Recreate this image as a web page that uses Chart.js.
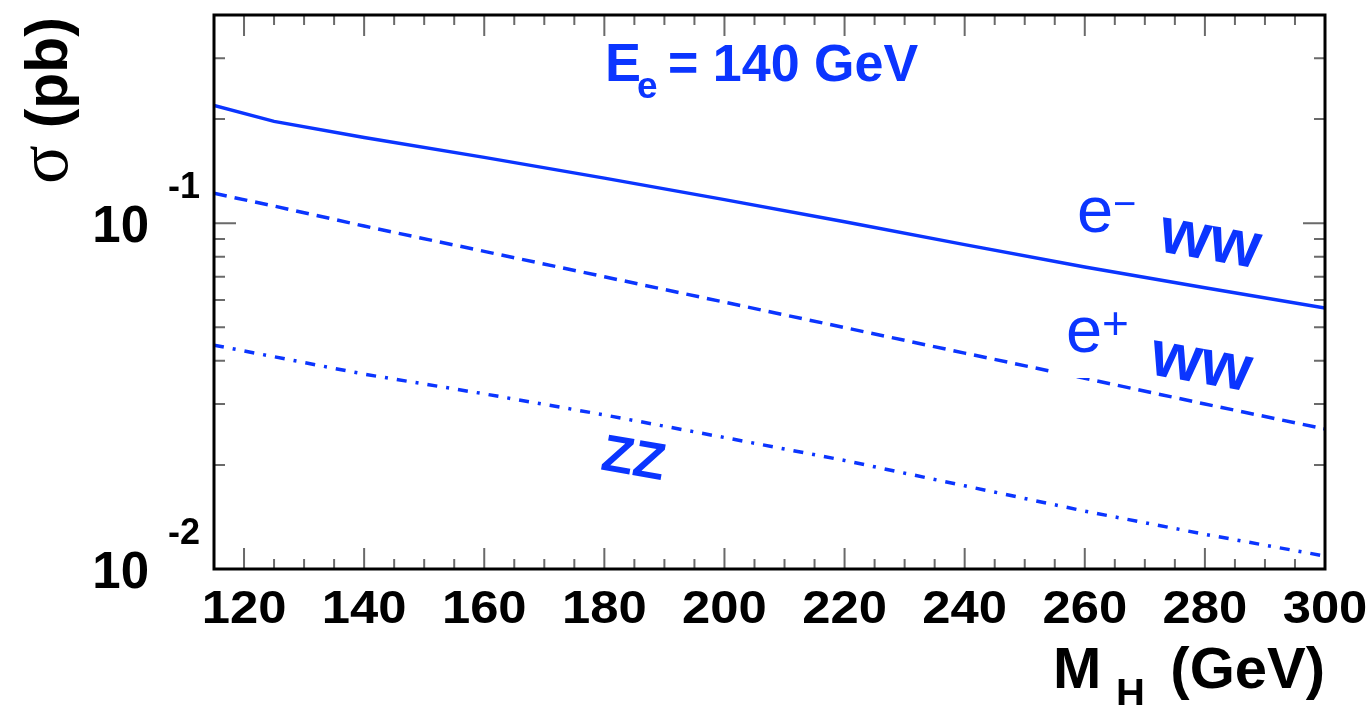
<!DOCTYPE html>
<html>
<head>
<meta charset="utf-8">
<script src="https://cdn.jsdelivr.net/npm/chart.js@4.4.1/dist/chart.umd.min.js"></script>
<style>
  html, body { margin: 0; padding: 0; background: #ffffff; }
  #area-grafico { width: 1372px; height: 705px; }
</style>
</head>
<body>
<div id="area-grafico">
  <canvas id="grafico-sigma-higgs" width="1372" height="705"></canvas>
</div>
<script>
// massa do Higgs (GeV)
const massasHiggs = [115, 125, 140, 160, 180, 200, 220, 240, 260, 280, 300];

// secoes de choque (pb) para cada canal
const sigmaEletronWW = [0.219, 0.197, 0.177, 0.155, 0.135, 0.117, 0.101, 0.0867, 0.0747, 0.0651, 0.0568];
const sigmaPositronWW = [0.122, 0.1121, 0.0981, 0.0829, 0.07, 0.0591, 0.0499, 0.0421, 0.0356, 0.03, 0.0254];
const sigmaZZ = [0.0444, 0.0411, 0.0366, 0.0321, 0.0279, 0.024, 0.0206, 0.0174, 0.0147, 0.0126, 0.0109];

// marcas dos eixos
const ticksX = [120, 140, 160, 180, 200, 220, 240, 260, 280, 300];
const ticksXMenores = [125, 130, 135, 145, 150, 155, 165, 170, 175, 185, 190, 195, 205, 210, 215,
  225, 230, 235, 245, 250, 255, 265, 270, 275, 285, 290, 295];
const ticksY = [0.01, 0.1];
const expoentesY = ['-2', '-1'];
const ticksYMenores = [0.02, 0.03, 0.04, 0.05, 0.06, 0.07, 0.08, 0.09, 0.2, 0.3];

const azul = '#0b35ff';
const fonteSans = '"Liberation Sans", Arial, sans-serif';

function escreve(ctx, texto, px, py, fonte, alinhamento, esticar = 1, angulo = 0) {
  ctx.save();
  ctx.translate(px, py);
  ctx.rotate(angulo);
  ctx.scale(esticar, 1);
  ctx.font = fonte;
  ctx.textAlign = alinhamento;
  ctx.textBaseline = 'alphabetic';
  ctx.fillText(texto, 0, 0);
  ctx.restore();
}

// moldura, marcas e textos no estilo ROOT
const molduraRoot = {
  id: 'molduraRoot',
  afterDatasetsDraw(chart) {
    const ctx = chart.ctx;
    const { left, right, top, bottom } = chart.chartArea;
    const escalaX = chart.scales.x;
    const escalaY = chart.scales.y;

    // fundo branco da legenda e+ corta a linha tracejada
    ctx.save();
    ctx.fillStyle = '#ffffff';
    ctx.fillRect(1052, 300, 88, 78);
    ctx.restore();

    // marcas do eixo x (embaixo e em cima)
    ctx.save();
    ctx.strokeStyle = '#6a6a6a';
    ctx.lineWidth = 2;
    ctx.beginPath();
    ticksX.forEach((v) => {
      const px = escalaX.getPixelForValue(v);
      ctx.moveTo(px, bottom);
      ctx.lineTo(px, bottom - 21);
      ctx.moveTo(px, top);
      ctx.lineTo(px, top + 21);
    });
    ticksXMenores.forEach((v) => {
      const px = escalaX.getPixelForValue(v);
      ctx.moveTo(px, bottom);
      ctx.lineTo(px, bottom - 10);
      ctx.moveTo(px, top);
      ctx.lineTo(px, top + 10);
    });

    // marcas do eixo y (esquerda e direita)
    ticksY.forEach((v) => {
      const py = escalaY.getPixelForValue(v);
      ctx.moveTo(left, py);
      ctx.lineTo(left + 22, py);
      ctx.moveTo(right, py);
      ctx.lineTo(right - 22, py);
    });
    ticksYMenores.forEach((v) => {
      const py = escalaY.getPixelForValue(v);
      ctx.moveTo(left, py);
      ctx.lineTo(left + 11, py);
      ctx.moveTo(right, py);
      ctx.lineTo(right - 11, py);
    });
    ctx.stroke();
    ctx.restore();

    // moldura
    ctx.save();
    ctx.strokeStyle = '#000000';
    ctx.lineWidth = 3;
    ctx.strokeRect(left, top, right - left, bottom - top);
    ctx.restore();

    ctx.save();
    ctx.fillStyle = '#000000';

    // rotulos do eixo x
    ticksX.forEach((v) => {
      escreve(ctx, String(v), escalaX.getPixelForValue(v), 623, 'bold 47px ' + fonteSans, 'center', 1.08);
    });

    // rotulos do eixo y: 10 com expoente
    ticksY.forEach((v, i) => {
      const py = escalaY.getPixelForValue(v);
      escreve(ctx, '10', 149, py + 19, 'bold 51px ' + fonteSans, 'right');
      escreve(ctx, expoentesY[i], 168, py - 25, 'bold 36px ' + fonteSans, 'left');
    });

    // titulo do eixo x
    escreve(ctx, 'M', 1053, 688, 'bold 58px ' + fonteSans, 'left');
    escreve(ctx, 'H', 1116, 707, 'bold 40px ' + fonteSans, 'left');
    escreve(ctx, '(GeV)', 1325, 688, 'bold 58px ' + fonteSans, 'right');

    // titulo do eixo y (vertical)
    escreve(ctx, '\u03c3', 67, 184, '72px "Liberation Serif", serif', 'left', 1, -Math.PI / 2);
    escreve(ctx, '(pb)', 67, 17, 'bold 59px ' + fonteSans, 'right', 1, -Math.PI / 2);
    ctx.restore();

    // textos em azul
    ctx.save();
    ctx.fillStyle = azul;
    escreve(ctx, 'E', 605, 81, 'bold 54px ' + fonteSans, 'left');
    escreve(ctx, 'e', 637, 98, 'bold 37px ' + fonteSans, 'left');
    escreve(ctx, '= 140 GeV', 668, 81, 'bold 51px ' + fonteSans, 'left', 1.02);

    const angulo = 10 * Math.PI / 180;
    escreve(ctx, 'e', 1077, 232, '65px ' + fonteSans, 'left');
    escreve(ctx, '\u2212', 1113, 217, '40px ' + fonteSans, 'left');
    escreve(ctx, 'e', 1066, 352, '65px ' + fonteSans, 'left');
    escreve(ctx, '+', 1102, 339, '46px ' + fonteSans, 'left');

    ctx.save();
    ctx.translate(1210, 243);
    ctx.rotate(angulo);
    escreve(ctx, 'ww', 0, 17, 'bold 65px ' + fonteSans, 'center');
    ctx.restore();

    ctx.save();
    ctx.translate(1201, 366);
    ctx.rotate(angulo);
    escreve(ctx, 'ww', 0, 17, 'bold 65px ' + fonteSans, 'center');
    ctx.restore();

    ctx.save();
    ctx.translate(634, 457);
    ctx.rotate(angulo);
    escreve(ctx, 'ZZ', 0, 18, 'bold 52px ' + fonteSans, 'center');
    ctx.restore();
    ctx.restore();
  },
};

function montaSerie(valores) {
  return massasHiggs.map((m, i) => ({ x: m, y: valores[i] }));
}

const data = {
  datasets: [
    {
      label: 'e- ww',
      data: montaSerie(sigmaEletronWW),
      borderColor: azul,
      borderWidth: 3.5,
      pointRadius: 0,
      tension: 0,
      fill: false,
    },
    {
      label: 'e+ ww',
      data: montaSerie(sigmaPositronWW),
      borderColor: azul,
      borderWidth: 3.5,
      borderDash: [13, 8],
      pointRadius: 0,
      tension: 0,
      fill: false,
    },
    {
      label: 'ZZ',
      data: montaSerie(sigmaZZ),
      borderColor: azul,
      borderWidth: 3.5,
      borderDash: [10, 9, 3, 9],
      pointRadius: 0,
      tension: 0,
      fill: false,
    },
  ],
};

const config = {
  type: 'line',
  data: data,
  options: {
    responsive: false,
    animation: false,
    layout: {
      padding: { left: 214, right: 47, top: 15, bottom: 136 },
    },
    scales: {
      x: { type: 'linear', min: 115, max: 300, display: false },
      y: { type: 'logarithmic', min: 0.01, max: 0.4, display: false },
    },
    plugins: {
      legend: { display: false },
      tooltip: { enabled: false },
    },
  },
  plugins: [molduraRoot],
};

let grafico = new Chart(
  document.getElementById('grafico-sigma-higgs').getContext('2d'),
  config
);
</script>
</body>
</html>
